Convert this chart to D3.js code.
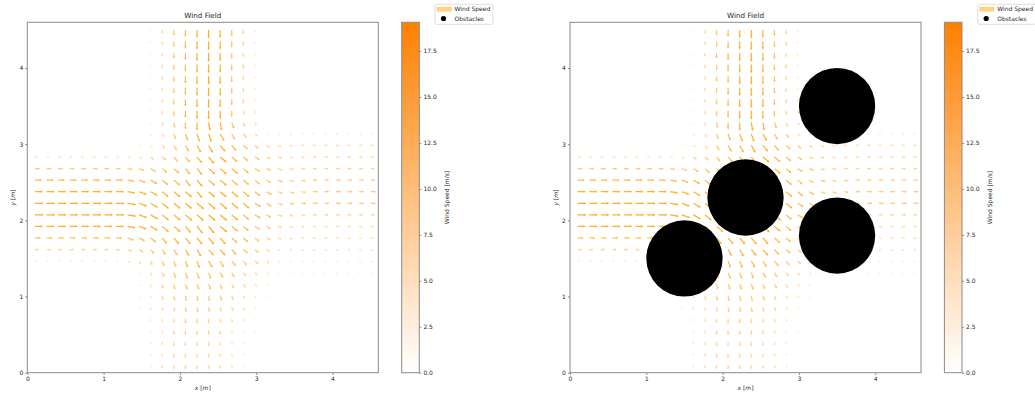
<!DOCTYPE html>
<html>
<head>
<meta charset="utf-8">
<script src="https://cdn.jsdelivr.net/npm/d3@7"></script>
<style>
  body { margin: 0; background: #fff; }
  svg { display: block; font-family: 'DejaVu Sans', sans-serif; }
</style>
</head>
<body>
<svg width="1035" height="397"></svg>
<script>
'use strict';

/* Grid positions in metres, used for both x and y. */
var gridPoints = [
  0.100, 0.252, 0.403, 0.555, 0.707, 0.859, 1.010, 1.162, 1.314, 1.466,
  1.617, 1.769, 1.921, 2.072, 2.224, 2.376, 2.528, 2.679, 2.831, 2.983,
  3.134, 3.286, 3.438, 3.590, 3.741, 3.893, 4.045, 4.197, 4.348, 4.500
];

/* Wind speed [m/s] per grid point, one base-36 char each, top row (y 4.5) first. */
var speedRows = [
  '11111111 1248cfhi hd952111 111111',
  '11111111 1248cfhi hd952111 111111',
  '11111111 1248cfhi hd952111 111111',
  '11111111 1248cfhi hd952111 111111',
  '11111111 1248cfhi hd952111 111111',
  '11111111 1248cfhi hd952111 111111',
  '11111111 1248cfhi hd952111 111111',
  '11111111 1248cfhi hd962222 222222',
  '11111111 1248cfhi hea73333 333333',
  '11111111 1258cfhi heb85555 555555',
  '33333333 3469cfhi hfdb9877 777777',
  '66666666 679bdfhi igeca988 888888',
  'bbbbbbbb bcdefghi ihfdba99 999999',
  'ffffffff ffgghhii ihgecbaa aaaaaa',
  'hhhhhhhh hhhhiiii iihfdbba bbbbbb',
  'iiiiiiii iiiiiijj jihfdbbb bbbbbb',
  'iiiiiiii iiiiijjj jigeca99 999999',
  'hhhhhhhh hhhiiijj jhfdb988 888888',
  'dddddddd eefghhii igeca877 777777',
  '99999999 abcefghh hfdb9666 666666',
  '55555555 68acefgg feca8555 555555',
  '22222222 358bdeee dca86444 444444',
  '11111111 247acddd cb975333 333333',
  '11111111 2469bccc ba864222 222222',
  '11111111 2468abbb a9753222 222222',
  '11111111 23579aaa 98643111 111111',
  '11111111 23579aaa 97542111 111111',
  '11111111 13579999 87532111 111111',
  '11111111 13579999 87532111 111111',
  '11111111 13579999 87532111 111111'
];

/* Wind direction per grid point, in tens of degrees below east (0 = east, 9 = south). */
var directionRows = [
  '99999999 99999999 99999111 111111',
  '99999999 99999999 99999111 111111',
  '99999999 99999999 99999111 111111',
  '99999999 99999999 99999111 111111',
  '99999999 99999999 99999111 111111',
  '99999999 99999999 99999111 111111',
  '99999999 99999999 99999111 111111',
  '99999999 99999999 99876100 000000',
  '00000000 88888998 87764100 000000',
  '00000000 55667777 66543210 000000',
  '00000000 13456666 55443210 000000',
  '00000000 13445555 44432211 000000',
  '00000000 12344554 44432210 000000',
  '00000000 12344554 44443221 000000',
  '00000000 12344454 44443221 000000',
  '00000000 12344444 44433210 000000',
  '00000000 12344444 44433221 000000',
  '00000000 12344555 44433221 111111',
  '00000000 23455555 54443221 111111',
  '00000001 23566665 55443222 222222',
  '00000001 36777776 65544333 333333',
  '00000002 57777777 66554444 444444',
  '00000005 78888777 76654444 444444',
  '99999999 89888888 77665444 444444',
  '99999999 99988888 87765444 444444',
  '99999999 99999999 88776444 444444',
  '99999999 99999999 98876444 444444',
  '99999999 99999999 98876444 444444',
  '99999999 99999999 98876444 444444',
  '99999999 99999999 98876444 444444'
];

/* Obstacles: centre x, centre y, radius [m]. */
var obstacleX = [1.5, 2.3, 3.5, 3.5];
var obstacleY = [1.5, 2.3, 1.8, 3.5];
var obstacleR = [0.5, 0.5, 0.5, 0.5];

/* Axis ticks. */
var axisTicks = [0, 1, 2, 3, 4];
var speedTicks = [0, 2.5, 5, 7.5, 10, 12.5, 15, 17.5];
var speedMax = 19.06;
var extent = [0, 4.6];

/* Layout. */
var plot = {top: 22.3, bottom: 372.7, width: 351};
var panels = [{left: 27.3, obstacles: false}, {left: 570, obstacles: true}];
var textColor = '#262626';
var spineColor = '#8a8a8a';

var svg = d3.select('svg');

/* Flatten the rows into one record per arrow. */
var arrows = [];
speedRows.forEach(function (row, r) {
  var speeds = row.replace(/ /g, '');
  var dirs = directionRows[r].replace(/ /g, '');
  for (var c = 0; c < speeds.length; c++) {
    arrows.push({
      x: gridPoints[c],
      y: gridPoints[gridPoints.length - 1 - r],
      speed: parseInt(speeds[c], 36),
      angle: Number(dirs[c]) * 10
    });
  }
});

/* Shared colour scales. */
var barColor = d3.interpolateRgb('#ffffff', '#ff8000');
var arrowColor = d3.scaleSequential(d3.interpolateRgb('#ffffff', '#ffa000')).domain([0, speedMax]);

/* Colorbar gradient. */
var gradient = svg.append('defs')
  .append('linearGradient')
  .attr('id', 'speed-gradient')
  .attr('x1', 0).attr('y1', 1).attr('x2', 0).attr('y2', 0);

d3.range(0, 1.0001, 0.1).forEach(function (t) {
  gradient.append('stop').attr('offset', t).attr('stop-color', barColor(t));
});

panels.forEach(drawPanel);

function drawPanel(panel) {
  var x = d3.scaleLinear().domain(extent).range([panel.left, panel.left + plot.width]);
  var y = d3.scaleLinear().domain(extent).range([plot.bottom, plot.top]);
  var pxPerUnit = x(1) - x(0);
  var group = svg.append('g');

  /* Arrows. */
  group.append('g')
    .selectAll('path')
    .data(arrows)
    .enter()
    .append('path')
    .attr('d', function (d) { return arrowPath(d.speed * 0.48); })
    .attr('transform', function (d) {
      return 'translate(' + x(d.x) + ',' + y(d.y) + ') rotate(' + d.angle + ')';
    })
    .attr('fill', function (d) { return arrowColor(d.speed); })
    .attr('fill-opacity', 0.9);

  /* Obstacles. */
  if (panel.obstacles) {
    group.append('g')
      .selectAll('circle')
      .data(obstacleX)
      .enter()
      .append('circle')
      .attr('cx', function (d) { return x(d); })
      .attr('cy', function (d, i) { return y(obstacleY[i]); })
      .attr('r', function (d, i) { return obstacleR[i] * pxPerUnit; })
      .attr('fill', '#000');
  }

  /* Axes. */
  var xAxis = group.append('g')
    .attr('transform', 'translate(0,' + plot.bottom + ')')
    .call(d3.axisBottom(x).tickValues(axisTicks).tickFormat(d3.format('d'))
      .tickSize(2.1).tickPadding(2).tickSizeOuter(0));
  var yAxis = group.append('g')
    .attr('transform', 'translate(' + panel.left + ',0)')
    .call(d3.axisLeft(y).tickValues(axisTicks).tickFormat(d3.format('d'))
      .tickSize(2.1).tickPadding(2).tickSizeOuter(0));
  styleAxis(xAxis);
  styleAxis(yAxis);

  /* Frame. */
  group.append('rect')
    .attr('x', panel.left).attr('y', plot.top)
    .attr('width', plot.width).attr('height', plot.bottom - plot.top)
    .attr('fill', 'none').attr('stroke', spineColor).attr('stroke-width', 1);

  /* Title and axis labels. */
  group.append('text')
    .attr('x', panel.left + plot.width / 2).attr('y', 18.3)
    .attr('text-anchor', 'middle').attr('font-size', 7.2).attr('fill', textColor)
    .text('Wind Field');

  var xLabel = group.append('text')
    .attr('x', panel.left + plot.width / 2).attr('y', 390)
    .attr('text-anchor', 'middle').attr('font-size', 6).attr('fill', textColor);
  mathLabel(xLabel, 'x');

  var yLabel = group.append('text')
    .attr('transform', 'translate(' + (panel.left - 12.3) + ',' + ((plot.top + plot.bottom) / 2) + ') rotate(-90)')
    .attr('text-anchor', 'middle').attr('font-size', 6).attr('fill', textColor);
  mathLabel(yLabel, 'y');

  /* Colorbar. */
  var barLeft = panel.left + 374.4;
  var barWidth = 17.6;
  var speed = d3.scaleLinear().domain([0, speedMax]).range([plot.bottom, plot.top]);

  group.append('rect')
    .attr('x', barLeft).attr('y', plot.top)
    .attr('width', barWidth).attr('height', plot.bottom - plot.top)
    .attr('fill', 'url(#speed-gradient)')
    .attr('stroke', spineColor).attr('stroke-width', 1);

  var barAxis = group.append('g')
    .attr('transform', 'translate(' + (barLeft + barWidth) + ',0)')
    .call(d3.axisRight(speed).tickValues(speedTicks).tickFormat(d3.format('.1f'))
      .tickSize(2.1).tickPadding(2).tickSizeOuter(0));
  styleAxis(barAxis);

  group.append('text')
    .attr('transform', 'translate(' + (panel.left + 421.7) + ',' + ((plot.top + plot.bottom) / 2) + ') rotate(-90)')
    .attr('text-anchor', 'middle').attr('font-size', 6).attr('fill', textColor)
    .text('Wind Speed [m/s]');

  /* Legend. */
  var legend = group.append('g')
    .attr('transform', 'translate(' + (panel.left + 407.7) + ',4.3)');

  legend.append('rect')
    .attr('x', 0).attr('y', 0).attr('width', 58).attr('height', 20)
    .attr('rx', 1.5)
    .attr('fill', '#fff').attr('fill-opacity', 0.8)
    .attr('stroke', '#d6d6d6').attr('stroke-width', 0.8);

  legend.append('rect')
    .attr('x', 1.7).attr('y', 2.5).attr('width', 15).attr('height', 4.8)
    .attr('fill', '#ffa500').attr('fill-opacity', 0.5);

  legend.append('circle')
    .attr('cx', 8.5).attr('cy', 14.2).attr('r', 2.6)
    .attr('fill', '#000');

  legend.append('text')
    .attr('x', 19.5).attr('y', 7.2)
    .attr('font-size', 6).attr('fill', textColor)
    .text('Wind Speed');

  legend.append('text')
    .attr('x', 19.5).attr('y', 16.4)
    .attr('font-size', 6).attr('fill', textColor)
    .text('Obstacles');
}

/* Build an arrow along +x with its tail at the origin. */
function arrowPath(len) {
  var hw = 0.6;
  var hh = 1.35;
  var hl = Math.min(2.4, len * 0.45);
  var s = len - hl;
  return 'M0,' + -hw + 'L' + s + ',' + -hw + 'L' + s + ',' + -hh + 'L' + len + ',0L' +
    s + ',' + hh + 'L' + s + ',' + hw + 'L0,' + hw + 'Z';
}

/* Matplotlib-like tick styling. */
function styleAxis(axis) {
  axis.select('.domain').remove();
  axis.attr('font-size', 6).attr('font-family', 'DejaVu Sans, sans-serif');
  axis.selectAll('line').attr('stroke', spineColor);
  axis.selectAll('text').attr('fill', textColor);
}

/* Write "v [m]" with italic maths letters. */
function mathLabel(text, letter) {
  text.append('tspan').attr('font-style', 'italic').text(letter);
  text.append('tspan').text(' [');
  text.append('tspan').attr('font-style', 'italic').text('m');
  text.append('tspan').text(']');
}
</script>
</body>
</html>
